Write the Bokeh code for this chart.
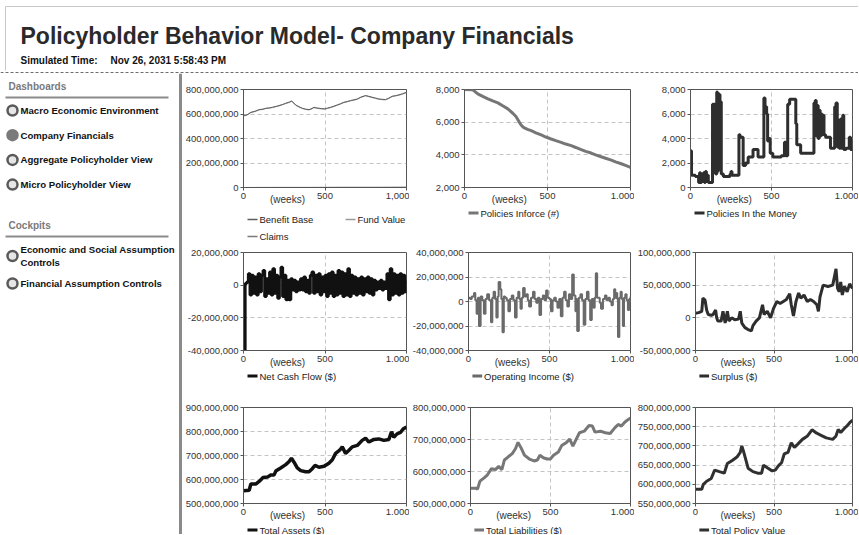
from bokeh.plotting import figure
from bokeh.layouts import column, row
from bokeh.models import (Range1d, FixedTicker, Label, Span, LinearAxis,
                          NumeralTickFormatter)
from bokeh.embed import file_html
from bokeh.resources import INLINE
from bokeh.core.properties import value

FONT = "Liberation Sans"

# ---------------- texts ----------------
title_text = "Policyholder Behavior Model- Company Financials"
sim_label = "Simulated Time:"
sim_value = "Nov 26, 2031 5:58:43 PM"
dash_header = "Dashboards"
dash_items = ["Macro Economic Environment", "Company Financials",
              "Aggregate Policyholder View", "Micro Policyholder View"]
active_item = "Company Financials"
cockpit_header = "Cockpits"
cockpit_items = [["Economic and Social Assumption", "Controls"],
                 ["Financial Assumption Controls"]]

x_ticks = [0, 500, 1000]
x_labels_first = ["0", "500", "1,000"]
x_labels_other = ["0", "500", "1.000"]
weeks_text = "(weeks)"
weeks_pos = 270

# ---------------- data (values in millions where noted) ----------------
bb_weeks = [0, 20, 45, 70, 96, 120, 137, 160, 177, 200, 218, 240, 259, 280, 296, 308, 320, 340, 361, 380,
            402, 420, 432, 448, 463, 480, 498, 515, 534, 555, 575, 595, 616, 636, 657, 678, 698, 720, 749, 770,
            789, 810, 830, 850, 871, 892, 912, 932, 953, 975, 1000]
benefit_base_m = [588, 592, 614, 622, 636, 640, 647, 650, 655, 662, 669, 678, 688, 697, 707, 690, 674, 660, 647, 640,
                  636, 645, 655, 650, 647, 644, 642, 648, 655, 664, 674, 684, 696, 702, 710, 716, 723, 738, 751, 744,
                  737, 730, 723, 720, 718, 730, 745, 750, 756, 765, 778]
fund_value_m = [584, 590, 610, 620, 633, 638, 645, 648, 652, 660, 666, 676, 685, 694, 703, 688, 671, 657, 645, 637,
                633, 642, 652, 647, 644, 641, 640, 645, 652, 661, 671, 681, 693, 699, 707, 713, 720, 735, 748, 741,
                734, 727, 720, 717, 715, 727, 742, 747, 753, 762, 774]
claims_weeks = [0, 200, 400, 600, 800, 1000]
claims_m = [0, 1, 1, 2, 2, 3]

pif_weeks = [0, 50, 80, 110, 141, 170, 201, 230, 261, 291, 310, 321, 331, 341, 351, 361, 380, 402, 430, 462,
             490, 522, 550, 582, 610, 643, 670, 703, 730, 763, 790, 823, 850, 884, 910, 944, 970, 1000]
policies_inforce = [8000, 7980, 7734, 7580, 7427, 7300, 7181, 7000, 6812, 6546, 6350, 6157, 5990, 5829, 5720, 5645,
                    5560, 5481, 5350, 5215, 5090, 4969, 4870, 4765, 4660, 4560, 4450, 4314, 4210, 4109, 4000, 3884,
                    3790, 3680, 3570, 3454, 3350, 3229]

pim_weeks = [0, 6, 30, 50, 56, 62, 68, 74, 80, 86, 92, 98, 104, 110, 136, 142, 146, 152, 156, 162,
             166, 170, 174, 178, 182, 186, 190, 203, 244, 250, 256, 299, 306, 325, 340, 356, 386, 417, 453, 460,
             470, 476, 484, 492, 508, 560, 580, 588, 600, 612, 650, 656, 680, 762, 770, 776, 782, 788, 794, 800,
             806, 812, 818, 824, 834, 864, 890, 898, 906, 912, 918, 926, 932, 940, 946, 960, 980, 988, 1000]
policies_in_money = [3000, 1000, 900, 400, 1200, 400, 1100, 500, 1200, 400, 1300, 500, 1000, 400, 6800, 1200, 6800,
                     6500, 1100, 7800, 1300, 7700, 1500, 7600, 1800, 7000, 1100, 900, 1100, 1300, 1000, 4300, 4100,
                     1800, 2000, 2500, 3100, 2500, 7300, 6600, 6000, 3800, 4000, 2800, 2500, 2600, 3700, 2600, 6800,
                     7200, 5200, 3500, 2800, 6900, 7100, 4200, 6700, 4000, 6300, 4200, 6000, 4300, 5900, 4300, 4100,
                     3200, 6600, 6900, 3300, 5500, 3200, 5600, 3200, 5900, 3100, 3200, 4100, 3100, 3100]

ncf_weeks = list(range(0, 1010, 10))
net_cash_flow_m = [-40, 1, 2, 7, -6, 6, -5, 5, -6, 7,
                   -4, 6, 9, -7, 4, -5, 8, -6, 10, -5,
                   6, -8, 5, 11, -7, 6, -9, 3, -9, 4,
                   -3, 3, -4, 2, -3, 4, -3, 5, -4, 3,
                   -5, 6, 8, -5, 6, -4, 7, -6, 5, -4,
                   6, -7, 7, -5, 8, -7, 6, -6, 9, -5,
                   8, -7, 7, -6, 10, -7, 6, -5, 5, -6,
                   4, -5, 5, -6, 4, -4, 5, -5, 4, -6,
                   3, -3, 2, -2, 3, -3, 2, -2, 7, -9,
                   10, -6, 7, -5, 6, -6, 7, -5, 6, -4,
                   3]

oi_weeks = [0, 10, 20, 34, 42, 50, 58, 65, 75, 85,
            95, 105, 115, 127, 139, 147, 155, 164, 172, 180,
            186, 196, 203, 210, 218, 226, 236, 246, 256, 267,
            277, 287, 297, 307, 314, 321, 329, 337, 347, 358,
            366, 374, 386, 398, 408, 418, 428, 438, 448, 459,
            469, 479, 489, 499, 509, 519, 529, 539, 549, 560,
            570, 580, 590, 600, 610, 620, 630, 640, 650, 660,
            666, 671, 681, 691, 701, 711, 721, 731, 741, 751,
            761, 772, 779, 786, 794, 802, 810, 818, 830, 842,
            852, 863, 873, 883, 891, 899, 906, 913, 918, 923,
            931, 939, 946, 953, 960, 968, 976, 984, 992, 1000]
operating_income_m = [3, 2, 4, 7, 1, -10, 3, -20, 4, 1,
                      -10, 2, 6, 1, -17, 3, 8, 2, -13, 4,
                      16, 10, 2, -25, 4, 3, 1, -8, 2, 5,
                      1, -13, 3, 8, 2, -6, 3, 11, 4, 6,
                      1, -4, 3, 8, 2, -1, 3, -11, 2, 5,
                      1, 9, 3, 2, -8, 1, 3, 0, -5, 2,
                      -12, 3, 8, 1, -4, 6, 2, 22, 5, -8,
                      2, -24, 3, 6, 1, -19, 2, 8, 1, -15,
                      2, -5, 3, 23, 3, 3, -1, -6, 2, 5,
                      1, 3, 0, -3, 2, 10, 3, 7, 2, -29,
                      3, 8, 2, -20, 3, 6, 1, -7, 2, 4]

sur_weeks = [0, 20, 40, 47, 61, 71, 81, 100, 112, 128, 135, 142, 163, 175, 189, 203, 213, 230, 250, 274,
             285, 295, 315, 335, 356, 366, 386, 407, 427, 437, 457, 478, 498, 518, 539, 559, 579, 600, 610, 624,
             640, 657, 671, 691, 712, 732, 752, 773, 783, 793, 813, 844, 874, 895, 905, 915, 925, 935, 949, 966,
             982, 1000]
surplus_m = [7, 8, 10, 30, 27, 12, 5, 4, 5, 12, 0, -5, -5, 10, -8, 10, -5, 0, -3, -2,
             10, -8, -15, -18, -20, -12, -5, 0, 20, 5, 10, 0, 15, 25, 22, 25, 28, 37, 20, 3,
             25, 38, 30, 35, 25, 28, 25, 20, 10, 32, 50, 48, 50, 75, 45, 40, 55, 35, 48, 40,
             52, 45]

ta_weeks = [0, 35, 45, 75, 96, 120, 147, 167, 188, 198, 228, 259, 280, 294, 310, 330, 351, 381, 402, 422,
            439, 463, 494, 524, 545, 565, 590, 606, 626, 647, 667, 698, 728, 749, 769, 800, 830, 861, 892, 908,
            922, 942, 963, 979, 1000]
total_assets_m = [553, 555, 581, 581, 592, 608, 610, 619, 619, 635, 648, 662, 675, 689, 672, 648, 637, 632, 632, 645,
                  659, 651, 655, 668, 682, 709, 722, 736, 709, 722, 736, 742, 763, 772, 756, 767, 769, 763, 767, 799,
                  776, 790, 796, 810, 819]

tl_weeks = [0, 34, 44, 59, 85, 105, 131, 156, 176, 196, 212, 236, 261, 281, 297, 317, 337, 368, 398, 418,
            434, 455, 479, 499, 519, 549, 570, 600, 620, 640, 661, 681, 711, 741, 762, 778, 812, 842, 873, 903,
            923, 943, 964, 984, 1000]
total_liabilities_m = [548, 548, 545, 570, 580, 589, 609, 606, 616, 606, 636, 646, 656, 671, 691, 673, 651, 639, 633,
                       636, 651, 643, 639, 639, 651, 661, 681, 691, 701, 679, 701, 721, 726, 744, 742, 723, 726, 721,
                       719, 737, 747, 742, 754, 762, 767]

tpv_weeks = [0, 40, 50, 71, 100, 122, 152, 183, 203, 234, 264, 285, 295, 305, 335, 366, 396, 421, 433, 457,
             488, 508, 528, 549, 565, 589, 610, 630, 650, 681, 711, 742, 772, 803, 833, 874, 894, 909, 925, 949,
             965, 986, 1000]
total_policy_value_m = [587, 587, 600, 608, 615, 637, 633, 629, 654, 662, 671, 683, 700, 687, 642, 633, 629, 629,
                        650, 643, 635, 637, 648, 657, 679, 683, 708, 696, 704, 717, 725, 742, 733, 727, 721, 717,
                        725, 743, 735, 746, 752, 762, 767]

# y axis ticks
ticks_fin1 = [0, 200e6, 400e6, 600e6, 800e6]
ticks_pif = [2000, 4000, 6000, 8000]
ticks_pim = [0, 2000, 4000, 6000, 8000]
ticks_ncf = [-40e6, -20e6, 0, 20e6]
ticks_oi = [-40e6, -20e6, 0, 20e6, 40e6]
ticks_sur = [-50e6, 0, 50e6, 100e6]
ticks_ta = [500e6, 600e6, 700e6, 800e6, 900e6]
ticks_tl = [500e6, 600e6, 700e6, 800e6]
ticks_tpv = [550e6, 600e6, 650e6, 700e6, 750e6, 800e6]

M = 1e6


def mil(vals):
    return [v * M for v in vals]


def make_chart(width, height, left, right, top, bottom, yticks, xlabels):
    p = figure(width=width, height=height,
               x_range=Range1d(0, 1000), y_range=Range1d(yticks[0], yticks[-1]),
               output_backend="svg", toolbar_location=None,
               min_border_left=left, min_border_right=right,
               min_border_top=top, min_border_bottom=bottom,
               background_fill_color="white", border_fill_color="white")
    p.outline_line_color = "#555555"
    p.xaxis.ticker = FixedTicker(ticks=x_ticks)
    p.xaxis.major_label_overrides = {t: s for t, s in zip(x_ticks, xlabels)}
    p.yaxis.ticker = FixedTicker(ticks=yticks)
    p.yaxis.formatter = NumeralTickFormatter(format="0,0")
    for ax in (p.xaxis[0], p.yaxis[0]):
        ax.axis_line_color = "#555555"
        ax.major_tick_line_color = "#555555"
        ax.major_tick_out = 3
        ax.major_tick_in = 0
        ax.minor_tick_line_color = None
        ax.major_label_standoff = 2
        ax.major_label_text_font = FONT
        ax.major_label_text_font_size = "9.5px"
        ax.major_label_text_color = "#333333"
    p.xgrid.ticker = FixedTicker(ticks=x_ticks)
    p.ygrid.ticker = FixedTicker(ticks=yticks)
    for g in (p.xgrid[0], p.ygrid[0]):
        g.grid_line_color = "#c4c4c4"
        g.grid_line_dash = "4 3"
        g.grid_line_width = 1
    # "(weeks)" caption as a second, tick-less axis pulled up next to the tick labels
    wax = LinearAxis(ticker=FixedTicker(ticks=[weeks_pos]),
                     major_label_overrides={weeks_pos: weeks_text},
                     axis_line_color=None, major_tick_line_color=None, minor_tick_line_color=None,
                     major_tick_out=0, major_tick_in=0, major_label_standoff=-8,
                     major_label_text_font=FONT, major_label_text_font_size="10px",
                     major_label_text_color="#333333")
    p.add_layout(wax, "below")
    return p


def make_legend(width, height, left, right, entries, top_pad=5.5):
    """entries: (label, color, line width, column, row); x in px from the frame's left edge"""
    fw = width - left - right
    lg = figure(width=width, height=height, x_range=Range1d(0, fw), y_range=Range1d(height, 0),
                x_axis_type=None, y_axis_type=None, output_backend="svg", toolbar_location=None,
                min_border_left=left, min_border_right=right, min_border_top=0, min_border_bottom=0,
                outline_line_color=None, background_fill_color="white",
                border_fill_color="white")
    xs = [4 + c * 98 for (_, _, _, c, _) in entries]
    ys = [top_pad + rr * 17 for (_, _, _, _, rr) in entries]
    lg.segment(x0=xs, y0=ys, x1=[x + 10 for x in xs], y1=ys,
               line_color=[e[1] for e in entries], line_width=[e[2] for e in entries])
    lg.text(x=[x + 12 for x in xs], y=ys, text=[e[0] for e in entries], text_font=value(FONT),
            text_font_size="9.5px", text_color="#222222", text_baseline="middle")
    return lg


# layout sizes
W1, W2, W3 = 227, 225, 224
L1, L2, L3 = 61, 55, 56
R1, R2, R3 = 3, 4, 6
H1, H2, H3 = 134, 125, 123
T1, T2, T3 = 16, 7, 7
BB = 20
G1, G2, G3 = 38, 30, 11

# ---- row 1 ----
c11 = make_chart(W1, H1, L1, R1, T1, BB, ticks_fin1, x_labels_first)
c11.line(claims_weeks, mil(claims_m), line_color="#7a7a7a", line_width=1)
c11.line(bb_weeks, mil(fund_value_m), line_color="#9a9a9a", line_width=1)
c11.line(bb_weeks, mil(benefit_base_m), line_color="#5e5e5e", line_width=1)
g11 = make_legend(W1, G1, L1, R1, [("Benefit Base", "#5e5e5e", 1.5, 0, 0), ("Fund Value", "#9a9a9a", 1.5, 1, 0),
                                   ("Claims", "#7a7a7a", 1.5, 0, 1)], top_pad=12)

c12 = make_chart(W2, H1, L2, R2, T1, BB, ticks_pif, x_labels_other)
c12.line(pif_weeks, policies_inforce, line_color="#767676", line_width=3)
g12 = make_legend(W2, G1, L2, R2, [("Policies Inforce (#)", "#767676", 3, 0, 0)])

c13 = make_chart(W3, H1, L3, R3, T1, BB, ticks_pim, x_labels_other)
c13.step(pim_weeks, policies_in_money, mode="after", line_color="#2e2e2e", line_width=3)
g13 = make_legend(W3, G1, L3, R3, [("Policies In the Money", "#2e2e2e", 3, 0, 0)])

# ---- row 2 ----
c21 = make_chart(W1, H2, L1, R1, T2, BB, ticks_ncf, x_labels_other)
c21.step(ncf_weeks, mil(net_cash_flow_m), mode="after", line_color="#111111", line_width=3)
g21 = make_legend(W1, G2, L1, R1, [("Net Cash Flow ($)", "#111111", 3, 0, 0)])

c22 = make_chart(W2, H2, L2, R2, T2, BB, ticks_oi, x_labels_other)
c22.step(oi_weeks, mil(operating_income_m), mode="after", line_color="#6a6a6a", line_width=2)
g22 = make_legend(W2, G2, L2, R2, [("Operating Income ($)", "#6a6a6a", 3, 0, 0)])

c23 = make_chart(W3, H2, L3, R3, T2, BB, ticks_sur, x_labels_other)
c23.line(sur_weeks, mil(surplus_m), line_color="#2e2e2e", line_width=3)
g23 = make_legend(W3, G2, L3, R3, [("Surplus ($)", "#2e2e2e", 3, 0, 0)])

# ---- row 3 ----
c31 = make_chart(W1, H3, L1, R1, T3, BB, ticks_ta, x_labels_other)
c31.line(ta_weeks, mil(total_assets_m), line_color="#111111", line_width=3.5)
g31 = make_legend(W1, G3, L1, R1, [("Total  Assets ($)", "#111111", 3, 0, 0)])

c32 = make_chart(W2, H3, L2, R2, T3, BB, ticks_tl, x_labels_other)
c32.line(tl_weeks, mil(total_liabilities_m), line_color="#777777", line_width=3)
g32 = make_legend(W2, G3, L2, R2, [("Total Liabilities ($)", "#777777", 3, 0, 0)])

c33 = make_chart(W3, H3, L3, R3, T3, BB, ticks_tpv, x_labels_other)
c33.line(tpv_weeks, mil(total_policy_value_m), line_color="#303030", line_width=3)
g33 = make_legend(W3, G3, L3, R3, [("Total Policy Value", "#303030", 3, 0, 0)])

# ---------------- header ----------------
SW = 182
HW, HH = W1 + W2 + W3 + SW, 73
hdr = figure(width=HW, height=HH, x_range=Range1d(0, HW), y_range=Range1d(HH, 0),
             x_axis_type=None, y_axis_type=None, output_backend="svg", toolbar_location=None,
             min_border=0, outline_line_color=None)
hdr.segment(x0=[5, 5], y0=[6, 6], x1=[HW, 5], y1=[6, 70], line_color="#c8c8c8", line_width=1)
hdr.add_layout(Label(x=20, y=35, text=title_text, text_font=FONT, text_font_size="23px",
                     text_font_style="bold", text_color="#2a2a2a", text_baseline="middle"))
hdr.add_layout(Label(x=20, y=60, text=sim_label, text_font=FONT, text_font_size="10px",
                     text_font_style="bold", text_color="#111111", text_baseline="middle"))
hdr.add_layout(Label(x=110, y=60, text=sim_value, text_font=FONT, text_font_size="10px",
                     text_font_style="bold", text_color="#111111", text_baseline="middle"))
hdr.add_layout(Span(location=72, dimension="width", line_color="#6e6e6e", line_width=1, line_dash="3 2"))

# ---------------- sidebar ----------------
SH = H1 + G1 + H2 + G2 + H3 + G3
sb = figure(width=SW, height=SH, x_range=Range1d(0, SW), y_range=Range1d(SH, 0),
            x_axis_type=None, y_axis_type=None, output_backend="svg", toolbar_location=None,
            min_border=0, outline_line_color=None)
sb.add_layout(Span(location=180, dimension="height", line_color="#8a8a8a", line_width=3))

head_y = [13, 152]
sb.text(x=[8, 8], y=head_y, text=[dash_header, cockpit_header], text_font=value(FONT),
        text_font_size="10px", text_font_style="bold", text_color="#7a7a7a", text_baseline="middle")
sb.segment(x0=[5, 5], y0=[h + 11 for h in head_y], x1=[168, 168], y1=[h + 11 for h in head_y],
           line_color="#8a8a8a", line_width=2)

item_x, item_y, item_t = [], [], []
dot_y, dot_fill, dot_line = [], [], []
for i, name in enumerate(dash_items):
    y = 37 + i * 24.7
    item_x.append(20); item_y.append(y); item_t.append(name)
    dot_y.append(y)
    act = name == active_item
    dot_fill.append("#7a7a7a" if act else "#e6e6e6")
    dot_line.append("#7a7a7a" if act else "#5a5a5a")
y = 176
for lines in cockpit_items:
    for j, ln in enumerate(lines):
        item_x.append(20); item_y.append(y + j * 13); item_t.append(ln)
    dot_y.append(y + (len(lines) - 1) * 6.5)
    dot_fill.append("#e6e6e6"); dot_line.append("#5a5a5a")
    y += 13 * len(lines) + 8

sb.scatter(x=[12] * len(dot_y), y=dot_y, size=10, marker="circle", fill_color=dot_fill,
           line_color=dot_line, line_width=2.5)
sb.text(x=item_x, y=item_y, text=item_t, text_font=value(FONT), text_font_size="9.6px",
        text_font_style="bold", text_color="#111111", text_baseline="middle")

grid = column(
    row(column(c11, g11), column(c12, g12), column(c13, g13)),
    row(column(c21, g21), column(c22, g22), column(c23, g23)),
    row(column(c31, g31), column(c32, g32), column(c33, g33)),
)
layout = column(hdr, row(sb, grid))

open("out.html", "w").write(file_html(layout, INLINE))
